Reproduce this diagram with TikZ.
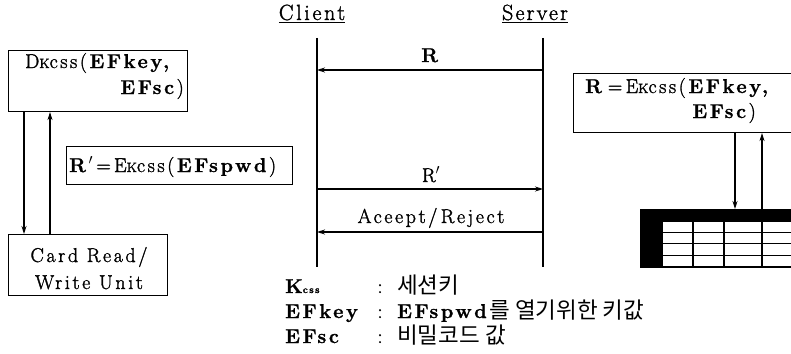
\documentclass[tikz,border=0pt]{standalone}
\usepackage{fontspec}
\setmainfont{Latin Modern Roman}[LetterSpace=13, UprightFeatures={FakeBold=1.5}, BoldFeatures={FakeBold=1.2}]
\newfontfamily\kr{Noto Sans CJK KR}
\usetikzlibrary{arrows.meta}
\newcommand{\kcs}{{\fontsize{13.5}{13}\selectfont K}css}
\begin{document}
\begin{tikzpicture}[x=1pt,y=-1pt,
  box/.style={draw, line width=1.1pt, inner sep=0pt, rectangle},
  txt/.style={inner sep=0pt, font=\fontsize{20}{22}\selectfont},
  head/.style={inner sep=0pt, font=\fontsize{22}{24}\selectfont},
  krf/.style={inner sep=0pt, font=\fontsize{22.5}{24}\selectfont},
  arr/.style={line width=1.1pt, -{Stealth[length=8pt,width=5pt]}},
  life/.style={line width=1.1pt}]
\clip (0,0) rectangle (791,353);
\fill[white] (0,0) rectangle (791,353);
% left side
\node[box, minimum width=179pt, minimum height=61pt, anchor=north west] (dk) at (8,50) {};
\node[txt, anchor=base west] (dkt1) at (25,68) {D\kcs(\textbf{EFkey,}};
\node[txt, anchor=base east] (dkt2) at (184,94) {\textbf{EFsc})};
\node[box, minimum width=159pt, minimum height=61pt, anchor=north west] (card) at (8,234) {};
\node[txt, anchor=base] (cardt1) at (89,262) {Card Read/};
\node[txt, anchor=base] (cardt2) at (89,289) {Write Unit};
\node[box, minimum width=226pt, minimum height=38pt, anchor=north west] (rp) at (66,146) {};
\node[txt, anchor=base west] (rpt) at (69,172) {\textbf{R}$'$\,=\,E\kcs(\textbf{EFspwd})};
\coordinate (xa) at (24,0);
\coordinate (xb) at (50,0);
\draw[arr] (dk.south -| xa) -- (card.north -| xa);
\draw[arr] (card.north -| xb) -- (dk.south -| xb);
% client / server
\node[head, anchor=base] (client) at (312,20) {\addfontfeature{LetterSpace=12}\underline{Client}};
\node[head, anchor=base] (server) at (535,20) {\addfontfeature{LetterSpace=10}\underline{Server}};
\coordinate (ct) at (317,38); \coordinate (cb) at (317,267);
\coordinate (st) at (543,38); \coordinate (sb) at (543,267);
\draw[life] (ct) -- (cb);
\draw[life] (st) -- (sb);
\coordinate (c1) at (317,70); \coordinate (s1) at (543,70);
\coordinate (c2) at (317,189); \coordinate (s2) at (543,189);
\coordinate (c3) at (317,232); \coordinate (s3) at (543,232);
\draw[arr] (s1) -- (c1);
\draw[arr] (c2) -- (s2);
\draw[arr] (s3) -- (c3);
\node[txt, anchor=base] (lr) at (431,62) {\textbf{R}};
\node[txt, anchor=base] (lrp) at (431,182) {R$'$};
\node[txt, anchor=base] (lacc) at (431,223) {Aceept/\,Reject};
% right side
\node[box, minimum width=240pt, minimum height=59pt, anchor=north west] (rb) at (573,73) {};
\node[txt, anchor=base west] (rbt1) at (585,93) {\textbf{R}\,=\,E\kcs(\textbf{EFkey,}};
\node[txt, anchor=base east] (rbt2) at (756,118) {\textbf{EFsc})};
\node[draw, line width=1pt, minimum width=170pt, minimum height=58pt, anchor=north west, inner sep=0pt] (tbl) at (640,209) {};
\fill (640,209) rectangle (800,222);
\fill (640,209) rectangle (663,267);
\foreach \yy in {232,243,255} \draw[line width=1pt] (663,\yy) -- (800,\yy);
\foreach \xx in {693,724,762} \draw[line width=1.2pt] (\xx,222) -- (\xx,267);
\draw[line width=1.6pt] (640,267) -- (800,267);
\coordinate (xc) at (735,0);
\coordinate (xd) at (762,0);
\draw[arr] (rb.south -| xc) -- (tbl.north -| xc);
\draw[arr] (tbl.north -| xd) -- (rb.south -| xd);
% legend
\node[txt, anchor=base west] (k1) at (285,293) {\textbf{K{\fontsize{10}{10}\selectfont css}}};
\node[txt, anchor=base west] (k2) at (285,318) {\textbf{EFkey}};
\node[txt, anchor=base west] (k3) at (285,343) {\textbf{EFsc}};
\node[txt, anchor=base] (c1l) at (380,293) {:};
\node[txt, anchor=base] (c2l) at (380,318) {:};
\node[txt, anchor=base] (c3l) at (380,343) {:};
\node[krf, anchor=base west] (v1) at (397,293) {{\kr 세션키}};
\node[krf, anchor=base west] (v2) at (397,318) {{\fontsize{20}{22}\selectfont\textbf{EFspwd}}{\kr 를 열기위한 키값}};
\node[krf, anchor=base west] (v3) at (397,343) {{\kr 비밀코드 값}};
\end{tikzpicture}
\end{document}
